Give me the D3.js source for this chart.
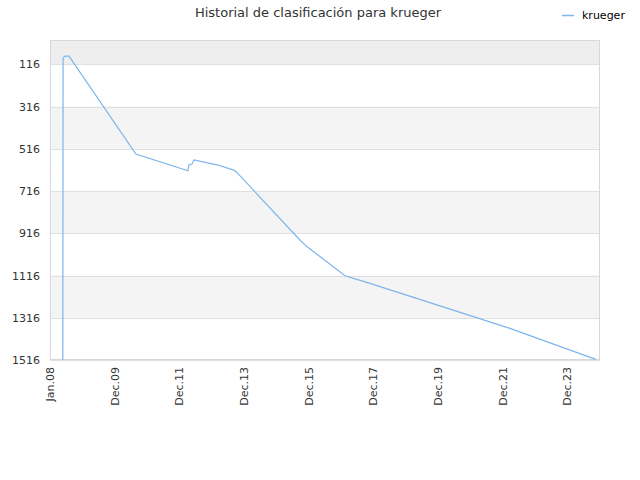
<!DOCTYPE html>
<html>
<head>
<meta charset="utf-8">
<script src="https://cdn.jsdelivr.net/npm/d3@7"></script>
<style>
  body { margin: 0; background: #fff; }
  text { font-family: "DejaVu Sans", sans-serif; }
</style>
</head>
<body>
<div id="chart"></div>
<script>
const WIDTH = 640
const HEIGHT = 480

// ranking history (date, position)
const dates = [
  '2008-05-25', '2008-05-28', '2008-06-05', '2008-06-19', '2008-08-03',
  '2010-08-29', '2012-04-09', '2012-04-20', '2012-05-24', '2012-06-16',
  '2013-03-14', '2013-08-31', '2013-09-23', '2013-12-11', '2015-09-27',
  '2015-12-15', '2017-02-18', '2017-11-27', '2020-01-27', '2022-03-28',
  '2024-11-24'
]
const ranks = [
  1516, 90, 82, 77, 77,
  541, 620, 593, 588, 569,
  593, 616, 620, 654, 948,
  979, 1117, 1153, 1260, 1366,
  1513
]

const yTicks = [116, 316, 516, 716, 916, 1116, 1316, 1516]
const xTickDates = ['2008-01-01', '2009-12-31', '2011-12-31', '2013-12-31', '2015-12-31',
  '2017-12-31', '2019-12-31', '2021-12-31', '2023-12-31']
const xTickLabels = ['Jan.08', 'Dec.09', 'Dec.11', 'Dec.13', 'Dec.15', 'Dec.17', 'Dec.19', 'Dec.21', 'Dec.23']

const parse = d3.timeParse('%Y-%m-%d')
const margin = { top: 40, right: 40, bottom: 120, left: 50 }
const plotW = WIDTH - margin.left - margin.right
const plotH = HEIGHT - margin.top - margin.bottom

const x = d3.scaleTime()
  .domain([parse('2008-01-01'), parse('2025-01-10')])
  .range([0, plotW])

const y = d3.scaleLinear()
  .domain([1, 1516])
  .range([0, plotH])

const svg = d3.select('#chart').append('svg')
  .attr('width', WIDTH)
  .attr('height', HEIGHT)

svg.append('text')
  .attr('x', 318)
  .attr('y', 17)
  .attr('text-anchor', 'middle')
  .attr('font-size', 13)
  .attr('fill', '#333')
  .text('Historial de clasificación para krueger')

const g = svg.append('g')
  .attr('transform', `translate(${margin.left},${margin.top})`)

// alternating bands
const bandEdges = [1].concat(yTicks)
for (let i = 0; i < bandEdges.length - 1; i++) {
  if (i % 2 === 1) continue
  g.append('rect')
    .attr('x', 0)
    .attr('y', y(bandEdges[i]))
    .attr('width', plotW)
    .attr('height', y(bandEdges[i + 1]) - y(bandEdges[i]))
    .attr('fill', i === 0 ? '#eeeeee' : '#f4f4f4')
}

// grid lines
g.selectAll('.grid')
  .data(yTicks)
  .join('line')
  .attr('x1', 0)
  .attr('x2', plotW)
  .attr('y1', d => Math.round(y(d)) + 0.5)
  .attr('y2', d => Math.round(y(d)) + 0.5)
  .attr('stroke', '#e0e0e0')

// frame
g.append('rect')
  .attr('x', 0.5)
  .attr('y', 0.5)
  .attr('width', plotW - 1)
  .attr('height', plotH - 1)
  .attr('fill', 'none')
  .attr('stroke', '#d8d8d8')

const yAxis = d3.axisLeft(y).tickValues(yTicks).tickFormat(d3.format('d')).tickSize(0).tickPadding(10)
g.append('g')
  .call(yAxis)
  .call(a => a.select('.domain').remove())
  .selectAll('text')
  .attr('font-size', 11)
  .attr('fill', '#333')
  .attr('font-family', '"DejaVu Sans", sans-serif')

const xAxis = d3.axisBottom(x)
  .tickValues(xTickDates.map(parse))
  .tickFormat((d, i) => xTickLabels[i])
  .tickSize(0)
g.append('g')
  .attr('transform', `translate(0,${plotH})`)
  .call(xAxis)
  .call(a => a.select('.domain').remove())
  .selectAll('text')
  .attr('font-size', 11)
  .attr('fill', '#333')
  .attr('font-family', '"DejaVu Sans", sans-serif')
  .attr('text-anchor', 'end')
  .attr('transform', 'rotate(-90)')
  .attr('x', -7)
  .attr('y', 0)
  .attr('dy', '0.35em')

const data = dates.map((d, i) => ({ date: parse(d), rank: ranks[i] }))
const line = d3.line()
  .x(d => x(d.date))
  .y(d => y(d.rank))

g.append('path')
  .datum(data)
  .attr('d', line)
  .attr('fill', 'none')
  .attr('stroke', '#7cb5ec')
  .attr('stroke-width', 1.2)

// legend
svg.append('line')
  .attr('x1', 562).attr('x2', 574)
  .attr('y1', 15.5).attr('y2', 15.5)
  .attr('stroke', '#7cb5ec')
  .attr('stroke-width', 1.5)
svg.append('text')
  .attr('x', 582)
  .attr('y', 19)
  .attr('font-size', 11)
  .attr('fill', '#000')
  .text('krueger')
</script>
</body>
</html>
